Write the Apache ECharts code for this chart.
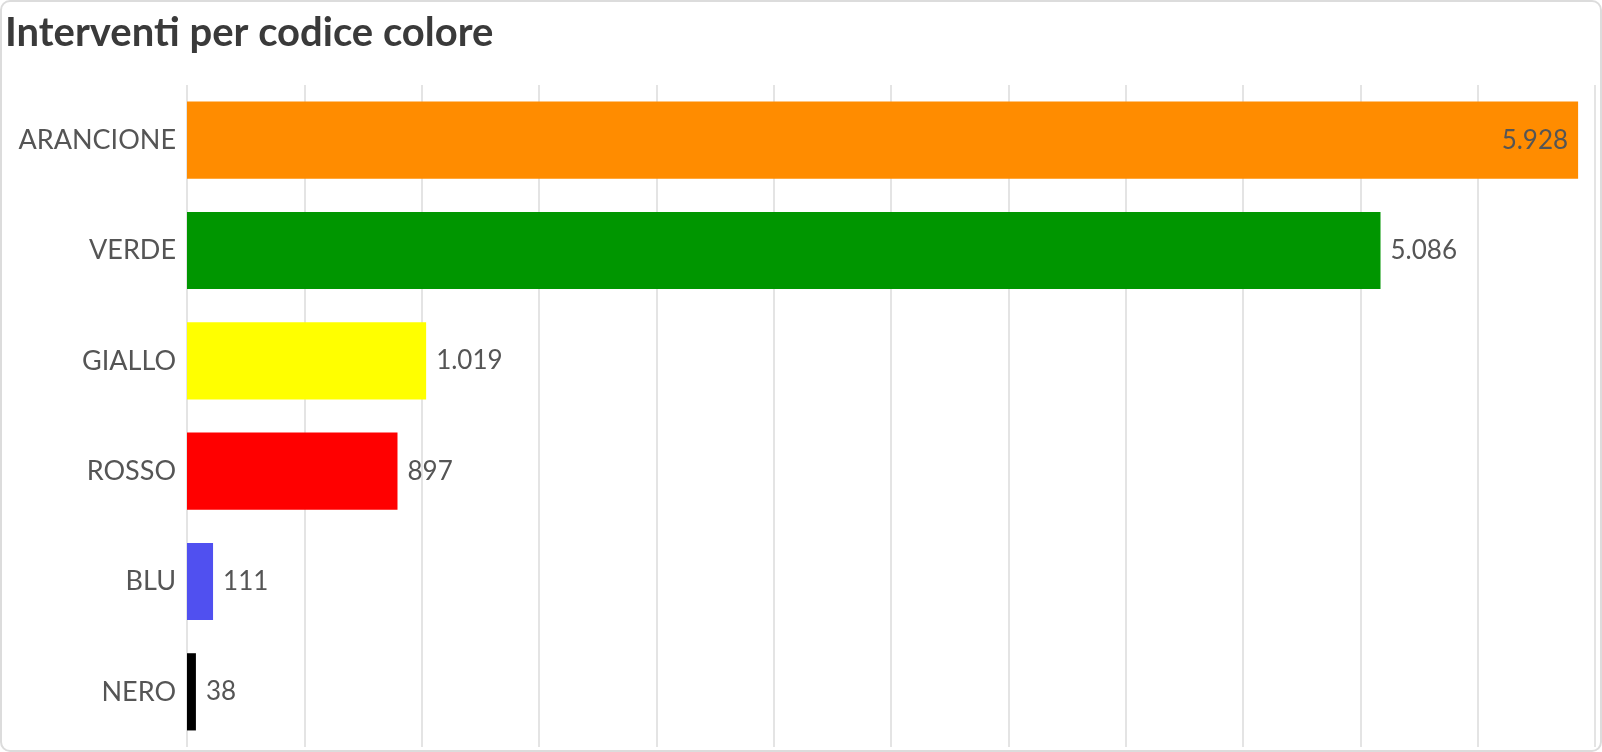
<!DOCTYPE html>
<html>
<head>
<meta charset="utf-8">
<script src="https://cdn.jsdelivr.net/npm/echarts@6/dist/echarts.min.js"></script>
<style>
html, body { margin: 0; padding: 0; background: #fff; }
#tubiao { position: absolute; left: 0; top: 0; width: 1602px; height: 752px; }
#card { position: absolute; left: 0; top: 0; width: 1602px; height: 752px; box-sizing: border-box;
        border: 2px solid #dcdcdc; border-radius: 10px; pointer-events: none; }
</style>
</head>
<body>
<div id="tubiao"></div>
<div id="card"></div>
<script>
var categorie = ['ARANCIONE', 'VERDE', 'GIALLO', 'ROSSO', 'BLU', 'NERO'];
var interventi = [5928, 5086, 1019, 897, 111, 38];
var colori = ['#ff8c00', '#009600', '#ffff00', '#ff0000', '#5050f0', '#000000'];

function formatta(v) {
	// separatore delle migliaia all'italiana
	return String(v).replace(/\B(?=(\d{3})+(?!\d))/g, '.');
}

var myChart = echarts.init(document.getElementById('tubiao'));

var dati = interventi.map(function (v, i) {
	var item = { value: v, itemStyle: { color: colori[i] } };
	if (i === 0) {
		item.label = { position: 'insideRight', distance: 10 };
	}
	return item;
});

var option = {
	animation: false,
	title: {
		text: 'Interventi per codice colore',
		left: 0,
		top: 8,
		textStyle: { fontFamily: 'Lato', fontWeight: 'bold', fontSize: 40, color: '#3a3a3a' }
	},
	grid: { left: 187, right: 7, top: 85, bottom: 5, containLabel: false },
	xAxis: {
		type: 'value',
		min: 0,
		max: 6000,
		interval: 500,
		axisLabel: { show: false },
		axisLine: { show: false },
		axisTick: { show: false },
		splitLine: { show: true, lineStyle: { color: '#e4e4e4', width: 2 } }
	},
	yAxis: {
		type: 'category',
		inverse: true,
		data: categorie,
		axisLine: { show: false },
		axisTick: { show: false },
		axisLabel: { margin: 11, fontFamily: 'Lato', fontSize: 27, color: '#555' }
	},
	series: [
		{
			type: 'bar',
			data: dati,
			barCategoryGap: '30%',
			label: {
				show: true,
				position: 'right',
				distance: 10,
				fontFamily: 'Lato',
				fontSize: 26,
				color: '#555',
				formatter: function (p) { return formatta(p.value); }
			}
		}
	]
};
myChart.setOption(option);
</script>
</body>
</html>
